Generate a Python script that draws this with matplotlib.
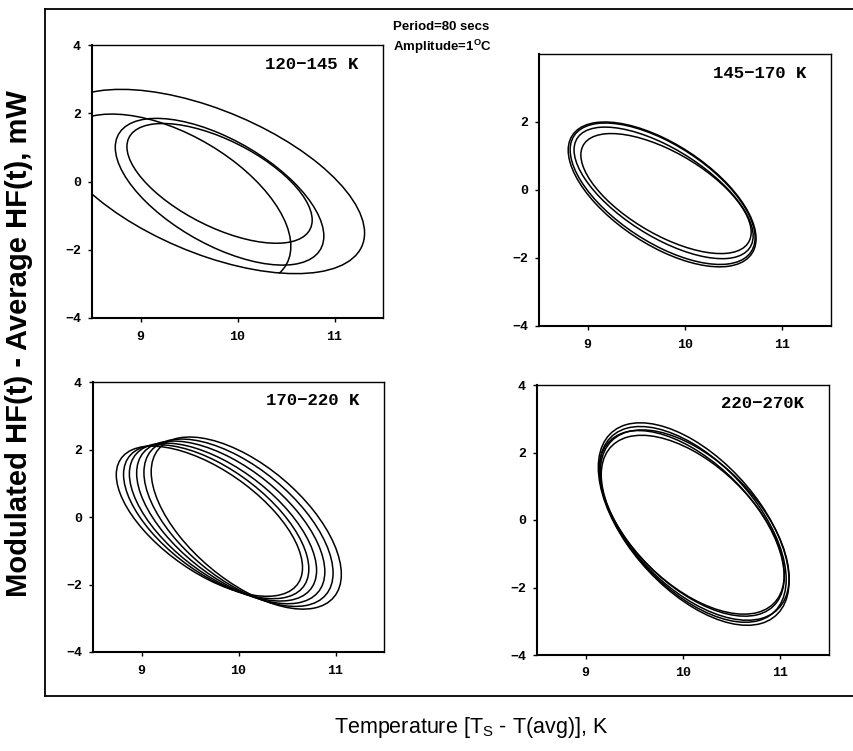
import numpy as np
import matplotlib
matplotlib.use("Agg")
import matplotlib.pyplot as plt
from matplotlib.path import Path
from matplotlib.patches import PathPatch
from matplotlib.transforms import Affine2D
from matplotlib.lines import Line2D

plt.rcParams["mathtext.fontset"] = "custom"
plt.rcParams["mathtext.rm"] = "Liberation Sans"
plt.rcParams["mathtext.bf"] = "Liberation Sans:bold"

# ---------------- data ----------------
panel_labels = ["120\u2212145 K", "145\u2212170 K", "170\u2212220 K", "220\u2212270K"]
x_ticks = [9, 10, 11]
y_ticks = [-4, -2, 0, 2, 4]
y_ticks_tr = [-4, -2, 0, 2]

# each loop: centre T, centre HF, half-range T, half-range HF,
# HF at the T maximum, start / end phase of the trace (deg)
tl_centre_T = [9.70, 9.815, 9.815, 9.35]
tl_centre_HF = [0.00, -0.30, -0.055, -0.544]
tl_half_T = [1.61, 1.075, 0.955, 1.20]
tl_half_HF = [2.70, 2.15, 1.755, 2.52]
tl_hf_at_Tmax = [-1.51, -1.60, -1.13, -1.90]
tl_phase_start = [0, 0, 0, -26]
tl_phase_end = [360, 360, 360, 140]

tr_centre_T = [9.765, 9.77, 9.78, 9.805]
tr_centre_HF = [-0.13, -0.11, -0.085, -0.105]
tr_half_T = [0.965, 0.95, 0.92, 0.875]
tr_half_HF = [2.13, 2.08, 1.935, 1.765]
tr_hf_at_Tmax = [-1.43, -1.40, -1.35, -1.24]
tr_phase_start = [0, 0, 0, 0]
tr_phase_end = [360, 360, 360, 360]

bl_centre_T = [9.70, 9.77, 9.84, 9.92, 10.00, 10.08]
bl_centre_HF = [-0.125, -0.14, -0.15, -0.16, -0.17, -0.18]
bl_half_T = [0.96, 0.955, 0.965, 0.97, 0.975, 0.98]
bl_half_HF = [2.225, 2.28, 2.34, 2.41, 2.48, 2.55]
bl_hf_at_Tmax = [-1.50, -1.54, -1.58, -1.62, -1.66, -1.70]
bl_phase_start = [0, 0, 0, 0, 0, 0]
bl_phase_end = [360, 360, 360, 360, 360, 360]

br_centre_T = [10.11, 10.10, 10.12, 10.09, 10.10]
br_centre_HF = [-0.12, -0.13, -0.15, -0.10, -0.14]
br_half_T = [0.98, 0.96, 0.97, 0.95, 0.94]
br_half_HF = [3.00, 2.90, 2.82, 2.75, 2.65]
br_hf_at_Tmax = [-1.80, -1.76, -1.72, -1.68, -1.62]
br_phase_start = [0, 0, 0, 0, 0]
br_phase_end = [360, 360, 360, 360, 360]

panels = [
    (tl_centre_T, tl_centre_HF, tl_half_T, tl_half_HF, tl_hf_at_Tmax, tl_phase_start, tl_phase_end),
    (tr_centre_T, tr_centre_HF, tr_half_T, tr_half_HF, tr_hf_at_Tmax, tr_phase_start, tr_phase_end),
    (bl_centre_T, bl_centre_HF, bl_half_T, bl_half_HF, bl_hf_at_Tmax, bl_phase_start, bl_phase_end),
    (br_centre_T, br_centre_HF, br_half_T, br_half_HF, br_hf_at_Tmax, br_phase_start, br_phase_end),
]

# ---------------- layout ----------------
W, H = 854, 751
fig = plt.figure(figsize=(W / 100, H / 100), dpi=100)
fig.patch.set_facecolor("white")

def box(l, r, t, b):
    return [l / W, (H - b) / H, (r - l) / W, (b - t) / H]

axes_boxes = [box(92, 383, 45, 318), box(539, 831, 54, 326),
              box(93, 384, 382, 652), box(537, 829, 385, 655)]

MONO = "Liberation Mono"
SANS = "Liberation Sans"


def draw_loop(ax, cT, cH, aT, aH, hT, t0, t1):
    k = hT - cH
    m = np.sqrt(max(aH ** 2 - k ** 2, 0.0))
    trans = Affine2D.from_values(aT, k, 0.0, m, cT, cH) + ax.transData
    path = Path.unit_circle() if (t1 - t0) >= 360 else Path.arc(t0, t1)
    ax.add_patch(PathPatch(path, transform=trans, fill=False,
                           edgecolor="black", linewidth=1.1))


for i, (rect, data) in enumerate(zip(axes_boxes, panels)):
    ax = fig.add_axes(rect)
    for cT, cH, aT, aH, hT, t0, t1 in zip(*data):
        draw_loop(ax, cT, cH, aT, aH, hT, t0, t1)
    ax.set_xlim(8.5, 11.5)
    ax.set_ylim(-4, 4)
    ax.set_xticks(x_ticks)
    ax.set_yticks(y_ticks_tr if i == 1 else y_ticks)
    ax.tick_params(direction="out", length=3, width=1.0, colors="black")
    ax.tick_params(axis="x", pad=6)
    ax.tick_params(axis="y", pad=5)
    for lab in ax.get_xticklabels() + ax.get_yticklabels():
        lab.set_fontfamily(MONO)
        lab.set_fontweight("bold")
        lab.set_fontsize(9.5)
    for side in ["left", "bottom"]:
        ax.spines[side].set_linewidth(1.5)
    for side in ["top", "right"]:
        ax.spines[side].set_linewidth(1.0)
    ax.text(0.915, 0.93, panel_labels[i], transform=ax.transAxes,
            ha="right", va="center", fontsize=12.5, fontweight="bold",
            family=MONO)

# outer frame (left, top, bottom lines)
fl, ft, fb = 45 / W, 1 - 9 / H, 1 - 696 / H
for xs, ys in [([fl, fl], [fb, ft]), ([fl, 1.0], [ft, ft]), ([fl, 1.0], [fb, fb])]:
    fig.add_artist(Line2D(xs, ys, transform=fig.transFigure,
                          color="black", linewidth=1.3))

fig.text(393 / W, 1 - 27 / H, "Period=80 secs", ha="left", va="center",
         fontsize=9.5, fontweight="bold", family=SANS)
fig.text(393 / W, 1 - 47 / H, r"Amplitude=1$^{\mathbf{O}}$C", ha="left",
         va="center", fontsize=9.5, fontweight="bold", family=SANS)

fig.text(19 / W, 1 - 344 / H, "Modulated HF(t) - Average HF(t), mW",
         rotation=90, ha="center", va="center", fontsize=21,
         fontweight="bold", family=SANS)
fig.text(471 / W, 1 - 727 / H, r"Temperature [T$_{\mathrm{S}}$ - T(avg)], K",
         ha="center", va="center", fontsize=15.5, family=SANS)

fig.savefig("out.png", dpi=100, facecolor="white")
